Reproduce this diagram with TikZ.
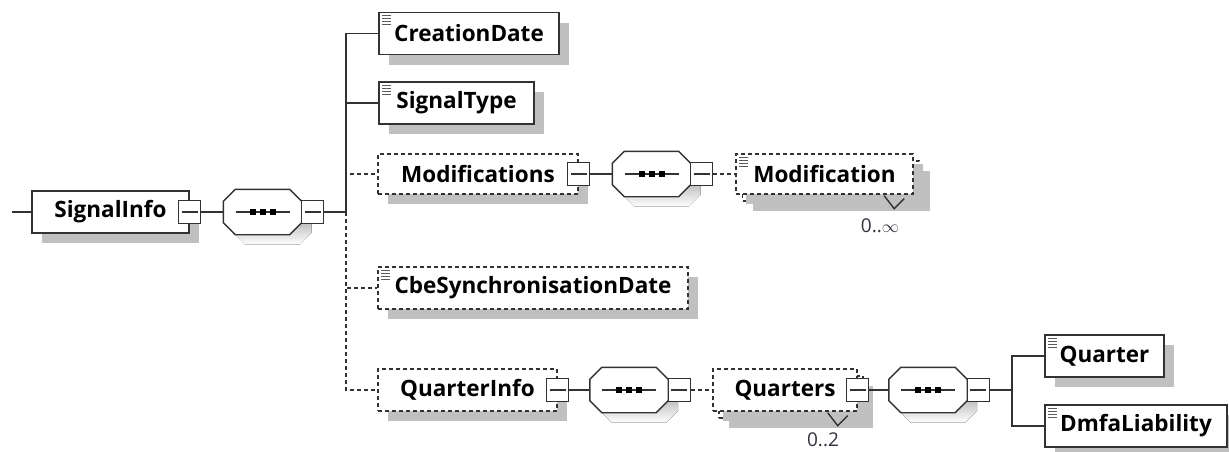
\documentclass[tikz,border=0pt]{standalone}
\usepackage{fontspec}
\setmainfont{Open Sans}
\usetikzlibrary{shadows}
\definecolor{shade}{RGB}{192,192,192}
\definecolor{edge}{RGB}{50,50,50}
\definecolor{occ}{RGB}{50,50,60}
\tikzset{
  elem/.style={draw=edge, line width=1.4pt, fill=white, minimum height=42pt, inner sep=0pt,
    font=\fontsize{22.5}{25}\selectfont\bfseries,
    drop shadow={shadow xshift=10pt, shadow yshift=-10pt, fill=shade, opacity=1}},
  optelem/.style={elem, dash pattern=on 4pt off 3pt},
  optfront/.style={optelem, drop shadow/.style={}},
  minus/.style={draw=edge, fill=white, line width=1.4pt, minimum width=22pt, minimum height=23pt, inner sep=0pt,
    path picture={\draw[edge, line width=1.2pt] ([xshift=3pt]path picture bounding box.west) -- ([xshift=-3pt]path picture bounding box.east);}},
  seqbox/.style={minimum width=78pt, minimum height=45pt, inner sep=0pt},
  seqoct/.style={draw=edge, line width=1.4pt, fill=white},
  conn/.style={draw=edge, line width=1.3pt},
  optconn/.style={conn, dash pattern=on 4pt off 3pt},
  notch/.style={draw=edge, line width=1.4pt},
  icon/.style={draw=edge!80, line width=1.2pt},
  occlabel/.style={text=occ, inner sep=0pt, font=\fontsize{19}{20}\selectfont}
}

\begin{document}
\begin{tikzpicture}[x=1pt, y=-1pt]
  \useasboundingbox (0,0) rectangle (1229,451);
  \coordinate (start) at (12,212);
  \node[elem, minimum width=157pt] (signalinfo) at (110.5,212) {SignalInfo};
  \node[minus] (signalinfominus) at (signalinfo.east) {};
  \node[seqbox] (seqa) at (262.5,212) {};
  \coordinate (trunk) at (346,212);

  \node[elem, minimum width=180pt] (creationdate) at (469,33.5) {CreationDate};
  \node[elem, minimum width=155pt] (signaltype) at (456.5,103) {SignalType};
  \node[optelem, minimum width=200pt, minimum height=40pt] (modifications) at (478,174) {Modifications};
  \node[minus] (modificationsminus) at (modifications.east) {};
  \node[seqbox] (seqb) at (651.5,174) {};
  \node[optelem, minimum width=177pt, minimum height=40pt] (modificationback) at (831,181) {};
  \node[optfront, minimum width=177pt, minimum height=40pt] (modification) at (824.5,174) {Modification};
  \node[occlabel] (modificationocc) at (880,226) {0..$\infty$};

  \node[optelem, minimum width=310pt] (cbesync) at (533,288) {CbeSynchronisationDate};

  \node[optelem, minimum width=179pt] (quarterinfo) at (467.5,390) {QuarterInfo};
  \node[minus] (quarterinfominus) at (quarterinfo.east) {};
  \node[seqbox] (seqc) at (629,390) {};
  \node[optelem, minimum width=144pt] (quartersback) at (791,397) {};
  \node[optfront, minimum width=144pt] (quarters) at (785,390) {Quarters};
  \node[minus] (quartersminus) at (quarters.east) {};
  \node[occlabel] (quartersocc) at (823,440) {0..2};
  \node[seqbox] (seqd) at (928,390) {};
  \coordinate (fork) at (1012,390);
  \node[elem, minimum width=119pt] (quarter) at (1104.5,356) {Quarter};
  \node[elem, minimum width=182pt] (dmfaliability) at (1136,426) {DmfaLiability};

  \foreach \s in {seqa,seqb,seqc,seqd} {
    \fill[shade, transform canvas={shift={(10pt,-10pt)}}] ([xshift=12pt]\s.north west) -- ([xshift=-12pt]\s.north east)
      -- ([yshift=-12pt]\s.north east) -- ([yshift=12pt]\s.south east) -- ([xshift=-12pt]\s.south east)
      -- ([xshift=12pt]\s.south west) -- ([yshift=12pt]\s.south west) -- ([yshift=-12pt]\s.north west) -- cycle;
    \draw[seqoct] ([xshift=12pt]\s.north west) -- ([xshift=-12pt]\s.north east)
      -- ([yshift=-12pt]\s.north east) -- ([yshift=12pt]\s.south east) -- ([xshift=-12pt]\s.south east)
      -- ([xshift=12pt]\s.south west) -- ([yshift=12pt]\s.south west) -- ([yshift=-12pt]\s.north west) -- cycle;
    \draw[conn] ([xshift=-27pt]\s.center) -- ([xshift=27pt]\s.center);
    \foreach \d in {-10,0,10}
      \fill[black] ([xshift=\d pt]\s.center) +(-3,-3) rectangle +(3,3);
    \node[minus] (\s minus) at ([xshift=11pt]\s.east) {};
  }

  \draw[conn] (start) -- (signalinfo);
  \draw[conn] (signalinfominus) -- (seqa);
  \draw[conn] (seqaminus) -- (trunk);
  \draw[conn] (trunk) |- (creationdate.west);
  \draw[conn] (trunk) |- (signaltype.west);
  \draw[optconn] (trunk) |- (modifications.west);
  \draw[optconn] (trunk) |- (cbesync.west);
  \draw[optconn] (trunk) |- (quarterinfo.west);
  \draw[conn] (modificationsminus) -- (seqb);
  \draw[optconn] (seqbminus) -- (modification);
  \draw[conn] (quarterinfominus) -- (seqc);
  \draw[optconn] (seqcminus) -- (quarters);
  \draw[conn] (quartersminus) -- (seqd);
  \draw[conn] (seqdminus) -- (fork) |- (quarter.west);
  \draw[conn] (fork) |- (dmfaliability.west);

  \draw[notch] ([shift={(-36,-6)}]modificationback.south east) -- ++(10,13) -- ++(10,-10);
  \draw[notch] ([shift={(-36,-6)}]quartersback.south east) -- ++(10,13) -- ++(10,-10);

  \foreach \n in {creationdate,signaltype,modification,cbesync,quarter,dmfaliability}
    \foreach \k in {0,1,2,3}
      \draw[icon] ([xshift=4pt, yshift={-4pt-3pt*\k}]\n.north west) -- ++(9,0);
\end{tikzpicture}
\end{document}
